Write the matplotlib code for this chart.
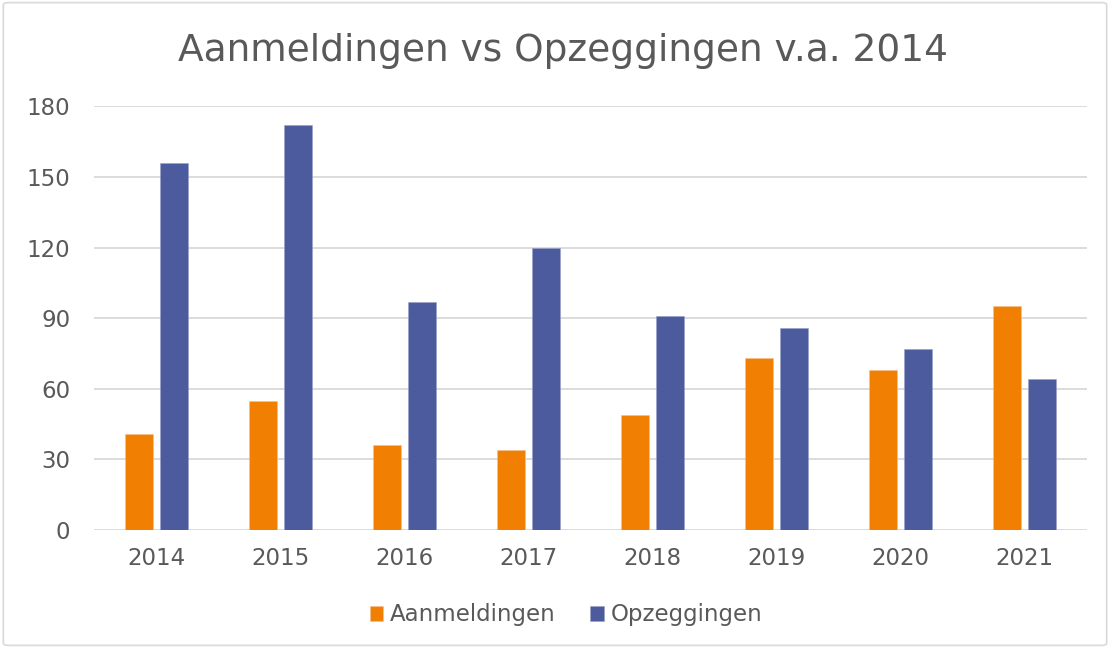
import numpy as np
import matplotlib.pyplot as plt
from matplotlib.patches import FancyBboxPatch

# Data
years = ['2014', '2015', '2016', '2017', '2018', '2019', '2020', '2021']
aanmeldingen = [41, 55, 36, 34, 49, 73, 68, 95]
opzeggingen = [156, 172, 97, 120, 91, 86, 77, 64]
y_ticks = [0, 30, 60, 90, 120, 150, 180]

text_color = '#595959'
grid_color = '#d9d9d9'

fig = plt.figure(figsize=(11.1, 6.48), dpi=100)
ax = fig.add_axes([0.0847, 0.182, 0.8943, 0.654])

# Rounded light border around the chart area
fig.patches.append(FancyBboxPatch((0.003, 0.004), 0.994, 0.992,
                                  boxstyle='round,pad=0,rounding_size=0.004',
                                  transform=fig.transFigure, fill=False,
                                  edgecolor=grid_color, linewidth=1.2))

x = np.arange(len(years))
w = 0.226
off = 0.141
ax.bar(x - off, aanmeldingen, w, color='#F07F02', edgecolor='#f8c08a',
       linewidth=0.4, label='Aanmeldingen', zorder=3)
ax.bar(x + off, opzeggingen, w, color='#4B5B9E', edgecolor='#98a2c8',
       linewidth=0.4, label='Opzeggingen', zorder=3)

ax.set_xlim(-0.5, len(years) - 0.5)
ax.set_ylim(0, 180)
ax.set_yticks(y_ticks)
ax.set_xticks(x)
ax.set_xticklabels(years)
ax.grid(axis='y', color=grid_color, linewidth=1.3, zorder=0)
ax.set_axisbelow(True)
for s in ax.spines.values():
    s.set_visible(False)
ax.tick_params(length=0, labelsize=16.5, labelcolor=text_color)
ax.tick_params(axis='y', pad=17)
ax.tick_params(axis='x', pad=12)

fig.text(0.507, 0.922, 'Aanmeldingen vs Opzeggingen v.a. 2014', ha='center',
         va='center', fontsize=27, color=text_color)

leg = fig.legend(loc='center', bbox_to_anchor=(0.51, 0.051), ncol=2,
                 frameon=False, fontsize=16.5, handlelength=0.6,
                 handleheight=0.6, handletextpad=0.3, columnspacing=1.5)
for t in leg.get_texts():
    t.set_color(text_color)

fig.savefig('out.png', dpi=100)
